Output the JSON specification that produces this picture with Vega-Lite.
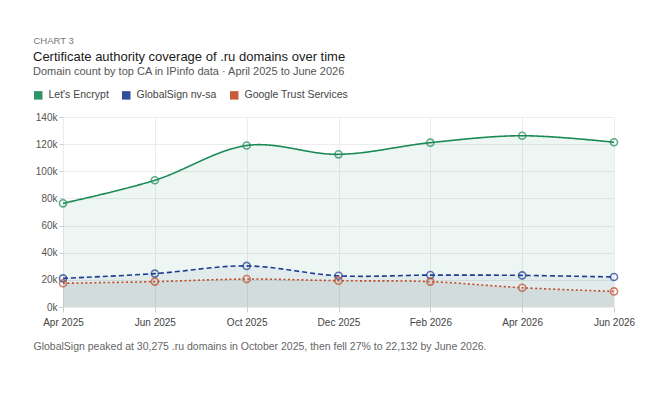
{
  "$schema": "https://vega.github.io/schema/vega-lite/v6.json",
  "width": 551,
  "height": 190,
  "autosize": {"type": "none"},
  "padding": {"left": 63, "top": 117, "right": 36, "bottom": 93},
  "background": "#ffffff",
  "title": {
    "text": "Certificate authority coverage of .ru domains over time",
    "subtitle": "Domain count by top CA in IPinfo data · April 2025 to June 2026",
    "anchor": "start",
    "frame": "group",
    "orient": "top",
    "dx": -30,
    "font": "Liberation Sans",
    "fontSize": 13,
    "fontWeight": 500,
    "color": "#1a1a1a",
    "subtitleFont": "Liberation Sans",
    "subtitleFontSize": 11,
    "subtitleColor": "#555555",
    "subtitlePadding": 2,
    "offset": -42
  },
  "config": {
    "font": "Liberation Sans",
    "view": {"stroke": null},
    "axis": {
      "gridColor": "#ececec",
      "gridWidth": 1,
      "domain": false,
      "tickColor": "#cccccc",
      "labelColor": "#555555",
      "labelFont": "Liberation Sans",
      "labelFontSize": 10
    }
  },
  "data": {
    "values": [
      {"month": "Apr 2025", "series": "Let's Encrypt", "value": 76400},
      {"month": "Jun 2025", "series": "Let's Encrypt", "value": 93400},
      {"month": "Oct 2025", "series": "Let's Encrypt", "value": 119000},
      {"month": "Dec 2025", "series": "Let's Encrypt", "value": 112500},
      {"month": "Feb 2026", "series": "Let's Encrypt", "value": 121100},
      {"month": "Apr 2026", "series": "Let's Encrypt", "value": 126200},
      {"month": "Jun 2026", "series": "Let's Encrypt", "value": 121400},
      {"month": "Apr 2025", "series": "GlobalSign nv-sa", "value": 21100},
      {"month": "Jun 2025", "series": "GlobalSign nv-sa", "value": 24600},
      {"month": "Oct 2025", "series": "GlobalSign nv-sa", "value": 30275},
      {"month": "Dec 2025", "series": "GlobalSign nv-sa", "value": 23000},
      {"month": "Feb 2026", "series": "GlobalSign nv-sa", "value": 23500},
      {"month": "Apr 2026", "series": "GlobalSign nv-sa", "value": 23300},
      {"month": "Jun 2026", "series": "GlobalSign nv-sa", "value": 22132},
      {"month": "Apr 2025", "series": "Google Trust Services", "value": 17500},
      {"month": "Jun 2025", "series": "Google Trust Services", "value": 18700},
      {"month": "Oct 2025", "series": "Google Trust Services", "value": 20600},
      {"month": "Dec 2025", "series": "Google Trust Services", "value": 19400},
      {"month": "Feb 2026", "series": "Google Trust Services", "value": 18700},
      {"month": "Apr 2026", "series": "Google Trust Services", "value": 14200},
      {"month": "Jun 2026", "series": "Google Trust Services", "value": 11500}
    ]
  },
  "encoding": {
    "x": {
      "field": "month",
      "type": "nominal",
      "sort": null,
      "scale": {"type": "point", "padding": 0},
      "axis": {
        "labelAngle": 0,
        "grid": true,
        "tickSize": 5,
        "labelPadding": 5,
        "labelColor": "#444444",
        "title": "GlobalSign peaked at 30,275 .ru domains in October 2025, then fell 27% to 22,132 by June 2026.",
        "titleFont": "Liberation Sans",
        "titleFontSize": 10.5,
        "titleFontWeight": "normal",
        "titleColor": "#666666",
        "titleAlign": "left",
        "titleBaseline": "middle",
        "titleAnchor": "start",
        "titleX": -30,
        "titleY": 39
      }
    },
    "y": {
      "field": "value",
      "type": "quantitative",
      "stack": null,
      "scale": {"domain": [0, 140000], "nice": false},
      "axis": {
        "values": [0, 20000, 40000, 60000, 80000, 100000, 120000, 140000],
        "labelExpr": "(datum.value / 1000) + 'k'",
        "tickSize": 4,
        "labelPadding": 2,
        "title": "CHART 3",
        "titleAngle": 0,
        "titleAlign": "left",
        "titleBaseline": "middle",
        "titleX": -30,
        "titleY": -77,
        "titleFont": "Liberation Sans",
        "titleFontSize": 9.5,
        "titleFontWeight": "normal",
        "titleColor": "#777777"
      }
    }
  },
  "layer": [
    {
      "transform": [{"filter": "datum.series === \"Let's Encrypt\""}],
      "mark": {"type": "area", "interpolate": "cardinal", "fill": "#1a8a5a", "fillOpacity": 0.08}
    },
    {
      "transform": [{"filter": "datum.series === 'GlobalSign nv-sa'"}],
      "mark": {"type": "area", "interpolate": "cardinal", "fill": "#1f3d99", "fillOpacity": 0.06}
    },
    {
      "transform": [{"filter": "datum.series === 'Google Trust Services'"}],
      "mark": {"type": "area", "interpolate": "cardinal", "fill": "#5a5a5a", "fillOpacity": 0.1}
    },
    {
      "mark": {"type": "line", "interpolate": "cardinal", "strokeWidth": 1.6},
      "encoding": {
        "color": {
          "field": "series",
          "type": "nominal",
          "scale": {
            "domain": ["Let's Encrypt", "GlobalSign nv-sa", "Google Trust Services"],
            "range": ["#1a8a55", "#1c3c94", "#c24a25"]
          },
          "legend": {
            "title": null,
            "orient": "none",
            "direction": "horizontal",
            "legendX": -30,
            "legendY": -27,
            "symbolType": "square",
            "symbolSize": 72,
            "symbolStrokeWidth": 0,
            "labelFontSize": 10.5,
            "labelColor": "#444444",
            "labelOffset": 5,
            "columnPadding": 12,
            "encode": {
              "symbols": {
                "update": {
                  "fill": {"scale": "color", "field": "value"},
                  "fillOpacity": {"value": 0.9},
                  "strokeWidth": {"value": 0},
                  "strokeOpacity": {"value": 0}
                }
              }
            }
          }
        },
        "strokeDash": {
          "field": "series",
          "type": "nominal",
          "scale": {
            "domain": ["Let's Encrypt", "GlobalSign nv-sa", "Google Trust Services"],
            "range": [[1, 0], [5, 3], [2, 2.5]]
          },
          "legend": null
        }
      }
    },
    {
      "mark": {"type": "point", "filled": false, "shape": "circle", "size": 50, "strokeWidth": 1.6},
      "encoding": {
        "color": {
          "field": "series",
          "type": "nominal"
        }
      }
    }
  ]
}
